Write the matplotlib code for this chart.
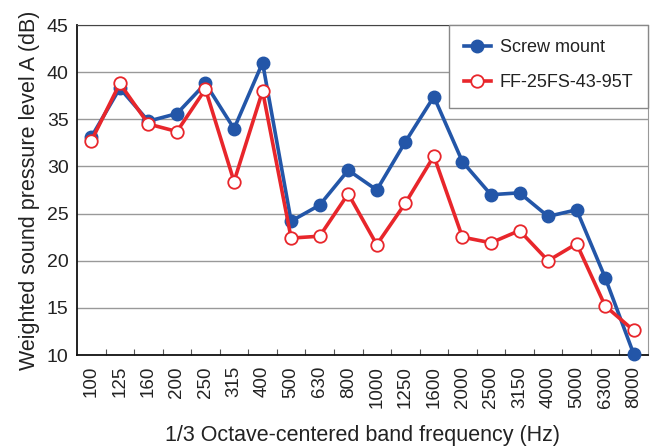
import numpy as np
import matplotlib
matplotlib.use("Agg")
import matplotlib.pyplot as plt
from matplotlib.patches import Rectangle

plt.rcParams['font.family'] = ['Liberation Sans', 'DejaVu Sans']

bands = ["100", "125", "160", "200", "250", "315", "400", "500", "630", "800",
         "1000", "1250", "1600", "2000", "2500", "3150", "4000", "5000", "6300", "8000"]
screw_mount = [33.1, 38.3, 34.8, 35.6, 38.8, 34.0, 41.0, 24.2, 25.9, 29.6,
               27.5, 32.6, 37.4, 30.5, 27.0, 27.2, 24.7, 25.4, 18.2, 10.1]
ff_25fs = [32.7, 38.8, 34.5, 33.7, 38.2, 28.4, 38.0, 22.4, 22.6, 27.1,
           21.7, 26.1, 31.1, 22.5, 21.9, 23.2, 20.0, 21.8, 15.2, 12.6]
y_ticks = [10, 15, 20, 25, 30, 35, 40, 45]

blue = "#2356a8"
red = "#e8262b"
text_col = "#222222"

fig = plt.figure(figsize=(6.51, 4.47), dpi=100)
ax = fig.add_axes([77 / 651, 1 - 355 / 447, 571 / 651, 330 / 447])

x = np.arange(len(bands)) + 0.5
ax.plot(x, screw_mount, color=blue, lw=2.6, marker="o", ms=9,
        mfc=blue, mec=blue, label="Screw mount", zorder=3, clip_on=False)
ax.plot(x, ff_25fs, color=red, lw=2.6, marker="o", ms=9,
        mfc="white", mec=red, mew=1.3, label="FF-25FS-43-95T", zorder=4, clip_on=False)

ax.set_xlim(0, len(bands))
ax.set_ylim(10, 45)
ax.set_yticks(y_ticks)
ax.set_yticklabels([str(v) for v in y_ticks], fontsize=14, color=text_col)
ax.tick_params(axis="y", length=0, pad=6)

# category boundary ticks on x, labels centred
ax.set_xticks(np.arange(1, len(bands)))
ax.set_xticklabels([])
ax.set_xticks(x, minor=True)
ax.set_xticklabels(bands, minor=True, rotation=90, fontsize=13.5, color=text_col)
ax.tick_params(axis="x", which="major", direction="in", length=4, color="#555555")
ax.tick_params(axis="x", which="minor", length=0, pad=8)

ax.grid(axis="y", color="#999999", lw=1)
ax.set_axisbelow(True)
for side in ["left", "bottom"]:
    ax.spines[side].set_color("#111111")
    ax.spines[side].set_linewidth(1.3)
ax.spines["top"].set_color("#444444")
ax.spines["right"].set_color("#999999")

ax.set_ylabel("Weighted sound pressure level A (dB)", fontsize=15.5, color=text_col, labelpad=5)
ax.set_xlabel("1/3 Octave-centered band frequency (Hz)", fontsize=15.5, color=text_col, labelpad=12)

# legend box drawn separately so its padding can be taller than wide
ax.add_patch(Rectangle((0.651, 0.748), 0.349, 0.252, transform=ax.transAxes,
                       facecolor="white", edgecolor="#888888", lw=1, zorder=5,
                       clip_on=False))
leg = ax.legend(loc="center", bbox_to_anchor=(0.826, 0.878), fontsize=13,
                frameon=False, handlelength=1.5, labelspacing=1.0,
                handletextpad=0.5, borderpad=0)
leg.set_zorder(6)
for t in leg.get_texts():
    t.set_color(text_col)

fig.savefig("out.png", dpi=100)
